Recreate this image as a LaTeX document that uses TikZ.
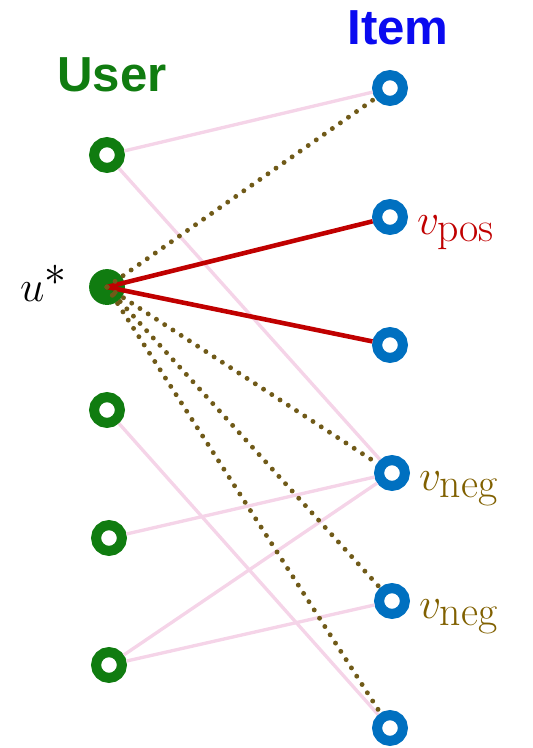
\documentclass[tikz,border=0pt]{standalone}
\usepackage{fontspec}
\newfontfamily\titlefont{Liberation Sans}
\usetikzlibrary{positioning}
\definecolor{UserGreen}{RGB}{16,124,16}
\definecolor{ItemBlue}{RGB}{0,112,192}
\definecolor{TitleBlue}{RGB}{10,10,240}
\definecolor{PosRed}{RGB}{192,0,0}
\definecolor{NegBrown}{RGB}{128,96,0}
\definecolor{DotOlive}{RGB}{112,90,24}
\definecolor{EdgePink}{RGB}{245,212,232}

\begin{document}
\begin{tikzpicture}[x=0.02cm,y=-0.02cm,
    ring/.style={circle,line width=5.7pt,minimum size=14.7pt,inner sep=0pt,fill=white},
    usernode/.style={ring,draw=UserGreen},
    itemnode/.style={ring,draw=ItemBlue},
    anchornode/.style={circle,fill=UserGreen,minimum size=20.4pt,inner sep=0pt},
    title/.style={font=\titlefont\bfseries\fontsize{28}{32}\selectfont},
    mathlabel/.style={font=\fontsize{34}{38}\selectfont,inner sep=0pt},
    observed/.style={EdgePink,line width=1.9pt},
    positive/.style={PosRed,line width=2.6pt},
    negative/.style={DotOlive,line width=2.8pt,line cap=round,dash pattern=on 0pt off 5.6pt}]

    % Keep the page the size of the reference
    \useasboundingbox (0,0) rectangle (533,748);

    % Titles
    \node[title,text=UserGreen] (usertitle) at (112,75) {User};
    \node[title,text=TitleBlue] (itemtitle) at (398,28) {Item};

    % Item column (right)
    \node[itemnode] (i1) at (390,88) {};
    \node[itemnode] (i2) at (390,217) {};
    \node[itemnode] (i3) at (390,345) {};
    \node[itemnode] (i4) at (392,473) {};
    \node[itemnode] (i5) at (392,601) {};
    \node[itemnode] (i6) at (390,728) {};

    % User column (left), u* is the anchor user
    \node[usernode] (u1) at (107,155) {};
    \node[anchornode] (ustar) at (107,287) {};
    \node[usernode] (u3) at (107,410) {};
    \node[usernode] (u4) at (109,538) {};
    \node[usernode] (u5) at (109,665) {};

    % Observed interactions of the other users
    \draw[observed] (u1) -- (i1);
    \draw[observed] (u1) -- (i4);
    \draw[observed] (u3) -- (i6);
    \draw[observed] (u4) -- (i4);
    \draw[observed] (u5) -- (i4);
    \draw[observed] (u5) -- (i5);

    % Positive items of u*
    \draw[positive] (ustar.center) -- (i2);
    \draw[positive] (ustar.center) -- (i3);

    % Candidate negatives of u*
    \foreach \j in {i1,i4,i5,i6} {
        \draw[negative] (ustar.center) -- (\j);
    }

    % Labels
    \node[mathlabel,left=12pt of ustar,yshift=2pt] (ustarlabel) {$u^*$};
    \node[mathlabel,text=PosRed,right=5pt of i2,yshift=-9pt] (poslabel) {$v_{\mathrm{pos}}$};
    \node[mathlabel,text=NegBrown,right=5pt of i4,yshift=-9pt] (neglabela) {$v_{\mathrm{neg}}$};
    \node[mathlabel,text=NegBrown,right=5pt of i5,yshift=-9pt] (neglabelb) {$v_{\mathrm{neg}}$};
\end{tikzpicture}
\end{document}
